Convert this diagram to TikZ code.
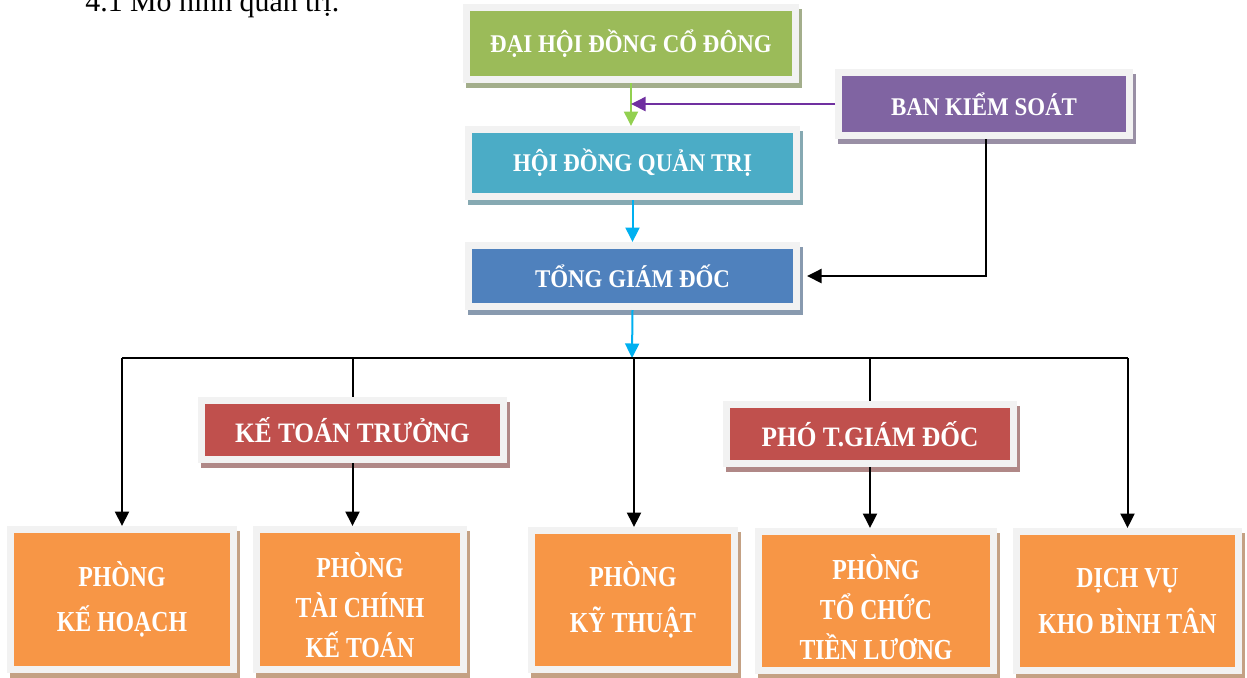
\documentclass[tikz,border=0pt]{standalone}
\usepackage{fontspec}
\setmainfont{Liberation Serif}
\newfontfamily\boxfont{Liberation Serif}[FakeStretch=0.9]
\newfontfamily\deptfont{Liberation Serif}[FakeStretch=0.82]
\usetikzlibrary{arrows.meta,shadows}
\newlength\pxu
\setlength\pxu{0.02cm}
\newcommand\toprule{\rule{0pt}{21pt}}
\definecolor{framegray}{HTML}{F2F2F2}
\definecolor{topgreen}{HTML}{9BBB59}
\definecolor{boardcyan}{HTML}{4BACC6}
\definecolor{ceoblue}{HTML}{4F81BD}
\definecolor{auditpurple}{HTML}{8064A2}
\definecolor{deputyred}{HTML}{C0504D}
\definecolor{deptorange}{HTML}{F79646}
\definecolor{arrowgreen}{HTML}{92D050}
\definecolor{arrowpurple}{HTML}{7030A0}
\definecolor{arrowcyan}{HTML}{00B0F0}
\tikzset{%
  orgbox/.style  = {shape=rectangle, fill=framegray, inner sep=0pt, outer sep=0pt,%
                    text=white, align=center,%
                    drop shadow={shadow xshift=3\pxu, shadow yshift=-5\pxu,%
                                 opacity=1, fill=#1!45!gray!80},%
                    path picture={\fill[#1]%
                      ([shift={(7\pxu,7\pxu)}]path picture bounding box.south west) rectangle%
                      ([shift={(-7\pxu,-7\pxu)}]path picture bounding box.north east);}},%
  headbox/.style = {orgbox=#1, font=\boxfont\bfseries\fontsize{14.5}{17}\selectfont},%
  midbox/.style  = {orgbox=#1, font=\boxfont\bfseries\fontsize{16}{19}\selectfont},%
  deptbox/.style = {orgbox=deptorange, font=\deptfont\bfseries\fontsize{16.5}{22.8}\selectfont},%
  tiphead/.style = {-{Triangle[length=0.29cm,width=0.28cm]}},%
  link/.style    = {line width=2\pxu, black},%
  flow/.style    = {link, tiphead}%
}
\begin{document}
\begin{tikzpicture}[x=1\pxu,y=-1\pxu]
	\useasboundingbox (0,0) rectangle (1247,677);
	\node[anchor=base west, inner sep=0pt, font=\fontsize{17}{20}\selectfont] (caption) at (85,11) {4.1 Mô hình quản trị.};
	% upper levels
	\node[headbox=topgreen, minimum width=336\pxu, minimum height=79\pxu] (dhdcd) at (631,43.5) {ĐẠI HỘI ĐỒNG CỔ ĐÔNG};
	\node[headbox=auditpurple, minimum width=298\pxu, minimum height=70\pxu] (bks) at (984,104) {BAN KIỂM SOÁT};
	\node[headbox=boardcyan, minimum width=335\pxu, minimum height=74\pxu] (hdqt) at (632.5,163) {HỘI ĐỒNG QUẢN TRỊ};
	\node[headbox=ceoblue, minimum width=335\pxu, minimum height=68\pxu] (tgd) at (632.5,276) {TỔNG GIÁM ĐỐC};
	\node[midbox=deputyred, minimum width=309\pxu, minimum height=66\pxu] (ktt) at (352.5,430) {KẾ TOÁN TRƯỞNG};
	\node[midbox=deputyred, minimum width=294\pxu, minimum height=66\pxu] (pho) at (870,434) {PHÓ T.GIÁM ĐỐC};
	% departments
	\node[deptbox, minimum width=230\pxu, minimum height=147\pxu] (pkh) at (122,599.5) {PHÒNG\\[3pt]KẾ HOẠCH};
	\node[deptbox, minimum width=214\pxu, minimum height=147\pxu] (ptc) at (360,599.5) {\toprule PHÒNG\\TÀI CHÍNH\\KẾ TOÁN};
	\node[deptbox, minimum width=210\pxu, minimum height=146\pxu] (pkt) at (633,600) {PHÒNG\\[3pt]KỸ THUẬT};
	\node[deptbox, minimum width=242\pxu, minimum height=146\pxu] (ptl) at (876,601) {\toprule PHÒNG\\TỔ CHỨC\\TIỀN LƯƠNG};
	\node[deptbox, minimum width=229\pxu, minimum height=146\pxu] (dv) at (1127.5,601) {DỊCH VỤ\\[3pt]KHO BÌNH TÂN};
	% connectors
	\coordinate (bus) at (632,358);
	\draw[tiphead, line width=2\pxu, arrowgreen] (dhdcd.south) -- (dhdcd.south |- hdqt.north);
	\draw[tiphead, line width=2\pxu, arrowpurple] (bks.west) -- (bks.west -| dhdcd.south);
	\draw[tiphead, line width=2\pxu, arrowcyan] (hdqt.south) -- (tgd.north);
	\draw[tiphead, line width=2\pxu, arrowcyan] (tgd.south) -- (bus);
	\draw[flow] ([xshift=2\pxu]bks.south) |- ([xshift=7\pxu]tgd.east);
	\draw[link] (pkh.north |- bus) -- (dv.north |- bus);
	\draw[flow] (pkh.north |- bus) -- (pkh.north);
	\draw[link] (ktt.north |- bus) -- (ktt.north);
	\draw[flow] (ktt.south) -- (ktt.south |- ptc.north);
	\draw[flow] ([xshift=1\pxu]pkt.north |- bus) -- ([xshift=1\pxu]pkt.north);
	\draw[link] (pho.north |- bus) -- (pho.north);
	\draw[flow] (pho.south) -- (pho.south |- ptl.north);
	\draw[flow] (dv.north |- bus) -- (dv.north);
\end{tikzpicture}
\end{document}
